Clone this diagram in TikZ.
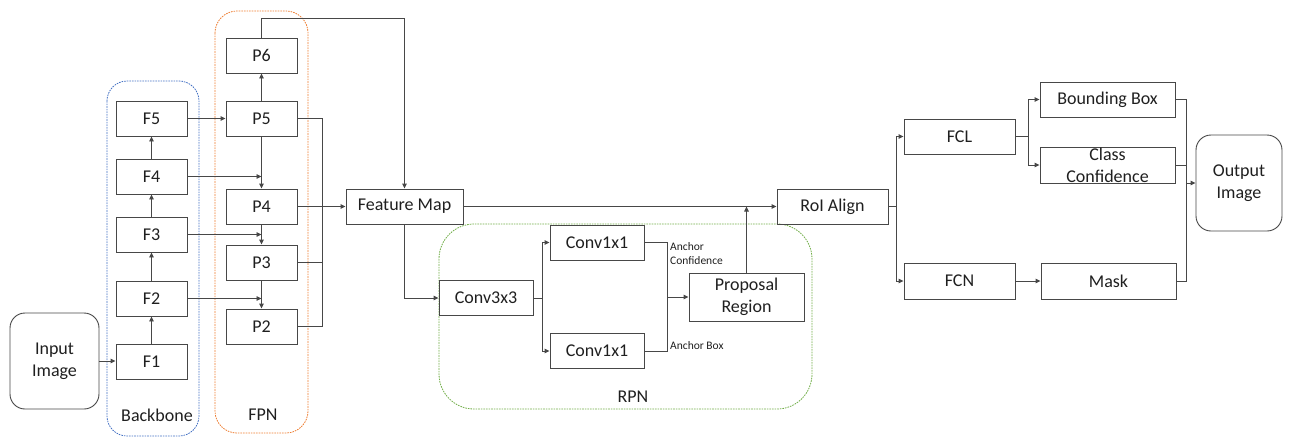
\documentclass[tikz,border=0pt]{standalone}
\usepackage{fontspec}
\setmainfont{Carlito}
\usetikzlibrary{arrows.meta}
\definecolor{bbblue}{HTML}{4472C4}
\definecolor{fpnorange}{HTML}{ED7D31}
\definecolor{rpngreen}{HTML}{70AD47}
\tikzset{
  blk/.style={draw=black!72, line width=0.9pt, minimum width=#1, minimum height=35pt,
    inner sep=0pt, align=center, text=black!88, font=\fontsize{18}{22}\selectfont},
  ln/.style={draw=black!72, line width=0.9pt},
  arr/.style={-{Triangle[length=5pt,width=4.5pt]}},
  grp/.style={line width=0.8pt, dash pattern=on 1.6pt off 1pt},
  lbl/.style={inner sep=0pt, text=black!88, font=\fontsize{18}{22}\selectfont},
  small/.style={inner sep=0pt, align=left, text=black!88, font=\fontsize{11.5}{14}\selectfont},
}
\begin{document}
\begin{tikzpicture}[x=1pt,y=-1pt]
\useasboundingbox (0,0) rectangle (1306,437);

% group frames
\draw[grp, draw=bbblue, rounded corners=20pt] (107,81) rectangle (199,436);
\draw[grp, draw=fpnorange, rounded corners=22pt] (215,11) rectangle (308,433);
\draw[grp, draw=rpngreen, rounded corners=35pt] (439,224) rectangle (812,409);
\node[lbl] (tbb) at (157,415) {Backbone};
\node[lbl] (tfpn) at (263,415) {FPN};
\node[lbl] (trpn) at (633,397) {RPN};

% input
\node[blk=89pt, minimum height=96pt, rounded corners=15pt] (in) at (54.5,361) {Input\\Image};

% backbone
\node[blk=71pt] (F1) at (151.5,361.5) {F1};
\node[blk=71pt] (F2) at (151.5,298.5) {F2};
\node[blk=71pt] (F3) at (151.5,234.5) {F3};
\node[blk=71pt] (F4) at (151.5,176.5) {F4};
\node[blk=71pt] (F5) at (151.5,118.5) {F5};

% pyramid
\node[blk=71pt] (P6) at (261.5,55.5) {P6};
\node[blk=71pt] (P5) at (261.5,118.5) {P5};
\node[blk=71pt] (P4) at (261.5,206.5) {P4};
\node[blk=71pt] (P3) at (261.5,262.5) {P3};
\node[blk=71pt] (P2) at (261.5,326.5) {P2};

% feature map and RPN
\node[blk=117pt] (fm) at (404.5,206.5) {Feature Map};
\node[blk=94pt] (c3) at (486,298) {Conv3x3};
\node[blk=94pt] (c1a) at (597,242.5) {Conv1x1};
\node[blk=94pt] (c1b) at (597,351) {Conv1x1};
\node[blk=115pt, minimum height=48pt] (pr) at (746.5,297) {Proposal\\Region};
\node[small, anchor=west] (lac) at (670,254) {Anchor\\Confidence};
\node[small, anchor=west] (lab) at (670,346) {Anchor Box};

% heads
\node[blk=111pt] (roi) at (832.5,206.5) {RoI Align};
\node[blk=111pt] (fcl) at (959.5,136.5) {FCL};
\node[blk=111pt, minimum height=36pt] (fcn) at (959.5,281) {FCN};
\node[blk=135pt] (bb) at (1107.5,99.5) {Bounding Box};
\node[blk=135pt, minimum height=36pt] (cc) at (1107.5,165) {};
\node[lbl, align=center] (cct) at (1107.5,165) {Class\\Confidence};
\node[blk=135pt, minimum height=36pt] (mask) at (1108.5,281) {Mask};
\node[blk=86pt, minimum height=96pt, rounded corners=15pt] (out) at (1239,183) {Output\\Image};

% backbone connections
\draw[ln,arr] (in.east) -- (in.east -| F1.west);
\draw[ln,arr] (F1) -- (F2);
\draw[ln,arr] (F2) -- (F3);
\draw[ln,arr] (F3) -- (F4);
\draw[ln,arr] (F4) -- (F5);

% lateral and top-down connections
\draw[ln,arr] (F5) -- (P5);
\draw[ln,arr] (P5) -- (P6);
\draw[ln,arr] (P5) -- (P4);
\draw[ln,arr] (P4) -- (P3);
\draw[ln,arr] (P3) -- (P2);
\coordinate (j4) at (261.5,176.5);
\coordinate (j3) at (261.5,234.5);
\coordinate (j2) at (261.5,298.5);
\draw[ln,arr] (F4.east) -- (j4);
\draw[ln,arr] (F3.east) -- (j3);
\draw[ln,arr] (F2.east) -- (j2);

% pyramid outputs into the feature map
\coordinate (busP) at (322,0);
\draw[ln] (P5.east) -- (P5.east -| busP) |- (P2.east);
\draw[ln] (P3.east) -- (P3.east -| busP);
\draw[ln,arr] (P4) -- (fm);
\draw[ln,arr] (P6.north) -- ++(0,-19) -| (fm.north);

% region proposal network
\draw[ln,arr] (fm.south) |- (c3.west);
\coordinate (s1) at (542,298);
\draw[ln] (c3.east) -- (s1);
\draw[ln,arr] (s1) |- (c1a.west);
\draw[ln,arr] (s1) |- (c1b.west);
\coordinate (s2) at (667,297);
\draw[ln] (c1a.east) -| (s2);
\draw[ln] (c1b.east) -| (s2);
\draw[ln,arr] (s2) -- (pr.west);
\draw[ln,arr] (fm.east) -- (roi.west);
\draw[ln,arr] (pr.north) -- (pr.north |- fm.east);

% heads
\coordinate (s3) at (896,206.5);
\draw[ln] (roi.east) -- (s3);
\draw[ln,arr] (s3) |- (fcl.west);
\draw[ln,arr] (s3) |- (fcn.west);
\coordinate (s4) at (1028,136.5);
\draw[ln] (fcl.east) -- (s4);
\draw[ln,arr] (s4) |- (bb.west);
\draw[ln,arr] (s4) |- (cc.west);
\draw[ln,arr] (fcn) -- (fcn -| mask.west);
\coordinate (s5) at (1186,183);
\draw[ln] (bb.east) -| (s5);
\draw[ln] (mask.east) -| (s5);
\draw[ln] (cc.east) -- (cc.east -| s5);
\draw[ln,arr] (s5) -- (out.west);
\end{tikzpicture}
\end{document}
